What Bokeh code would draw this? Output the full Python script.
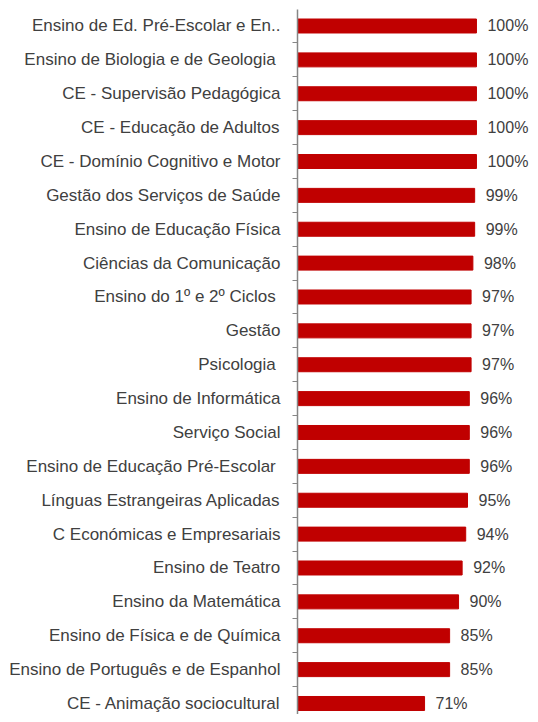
from bokeh.plotting import figure
from bokeh.models import Range1d, FixedTicker, ColumnDataSource
from bokeh.embed import file_html
from bokeh.resources import INLINE
from bokeh.core.properties import value

categories = [
    "Ensino de Ed. Pré-Escolar e En..",
    "Ensino de Biologia e de Geologia ",
    "CE - Supervisão Pedagógica",
    "CE - Educação de Adultos",
    "CE - Domínio Cognitivo e Motor",
    "Gestão dos Serviços de Saúde",
    "Ensino de Educação Física",
    "Ciências da Comunicação",
    "Ensino do 1º e 2º Ciclos ",
    "Gestão",
    "Psicologia ",
    "Ensino de Informática",
    "Serviço Social",
    "Ensino de Educação Pré-Escolar ",
    "Línguas Estrangeiras Aplicadas",
    "C Económicas e Empresariais",
    "Ensino de Teatro",
    "Ensino da Matemática",
    "Ensino de Física e de Química",
    "Ensino de Português e de Espanhol",
    "CE - Animação sociocultural",
]
values = [100, 100, 100, 100, 100, 99, 99, 98, 97, 97, 97, 96, 96, 96, 95, 94, 92, 90, 85, 85, 71]

n = len(categories)
ypos = [n - 1 - i for i in range(n)]
labels = [f"{v}%" for v in values]

FONT = "Liberation Sans"
TXT = "#404040"

src = ColumnDataSource(dict(y=ypos, v=values, lab=labels))

p = figure(width=530, height=714, output_backend="svg", toolbar_location=None,
           x_range=Range1d(0, 130.2), y_range=Range1d(-0.325, n - 0.513),
           min_border_left=297, min_border_right=0, min_border_top=9, min_border_bottom=0)
p.outline_line_color = None
p.grid.grid_line_color = None
p.xaxis.visible = False

p.hbar(y="y", left=0, right="v", height=0.413, source=src, color="#C00000")
p.text(x="v", y="y", text="lab", source=src, x_offset=11, text_align="left",
       text_baseline="middle", text_font=value(FONT), text_font_size="16px", text_color=TXT)

ya = p.yaxis[0]
ya.ticker = FixedTicker(ticks=ypos, minor_ticks=[y + 0.5 for y in range(-1, n)])
ya.major_label_overrides = {y: c for y, c in zip(ypos, categories)}
ya.major_tick_out = 0
ya.major_tick_in = 0
ya.minor_tick_out = 5
ya.minor_tick_in = 0
ya.minor_tick_line_color = "#868686"
ya.axis_line_color = "#868686"
ya.axis_line_width = 1.5
ya.major_label_standoff = 12
ya.major_label_text_font = FONT
ya.major_label_text_font_size = "17px"
ya.major_label_text_color = TXT

open("out.html", "w").write(file_html(p, INLINE))
